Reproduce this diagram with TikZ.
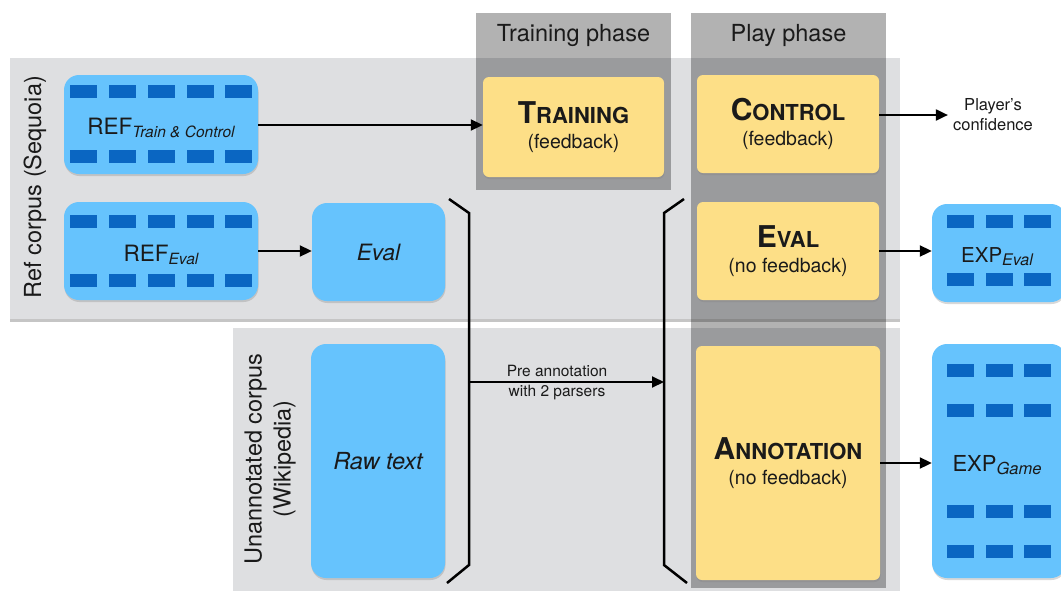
\documentclass[tikz,border=0pt]{standalone}
\usepackage{fontspec}
\setmainfont{TeX Gyre Heros}
\usetikzlibrary{arrows.meta,shadows}
\definecolor{panelgray}{HTML}{DEDFE1}
\definecolor{boxblue}{HTML}{66C3FD}
\definecolor{cellblue}{HTML}{0A66C2}
\definecolor{boxyellow}{HTML}{FDDF87}
\definecolor{txt}{HTML}{1A1A1A}
\newcommand\fsc[2]{{\fontsize{30}{30}\selectfont #1}{\fontsize{22}{22}\selectfont #2}}
\newcommand\fs[1]{\fontsize{#1}{#1}\selectfont}
\tikzset{
  panel/.style={fill=panelgray, draw=none, drop shadow={opacity=0.45, shadow xshift=0pt, shadow yshift=-2.5pt}},
  phasecol/.style={fill=black, fill opacity=0.3, draw=none},
  bluebox/.style={fill=boxblue, draw=none, rounded corners=15pt, text=txt,
     drop shadow={opacity=0.3, shadow xshift=0.5pt, shadow yshift=-2pt}},
  yellowbox/.style={fill=boxyellow, draw=none, rounded corners=6pt, text=txt, align=center,
     font=\fontsize{19.5}{25}\selectfont,
     drop shadow={opacity=0.3, shadow xshift=0.5pt, shadow yshift=-2pt}},
  cell/.style={fill=cellblue, draw=none},
  conn/.style={draw=black, line width=2pt, -{Triangle[length=12pt,width=11pt]}},
  bracket/.style={draw=black, line width=2.5pt},
  plain/.style={text=txt, inner sep=0pt, align=center}
}
\begin{document}
\begin{tikzpicture}[x=1pt,y=-1pt]
\useasboundingbox (0,0) rectangle (1061,590);
\fill[white] (0,0) rectangle (1061,590);
% panels
\path[panel] (10,58) rectangle (900,319);
\path[panel] (233,328) rectangle (900,594);
% phase columns
\path[phasecol] (476,13) rectangle (671,190);
\path[phasecol] (691,13) rectangle (886,588);
\node[plain, font=\fs{23.5}] (hTrain) at (573.5,35) {Training phase};
\node[plain, font=\fs{23.5}] (hPlay) at (788.5,35) {Play phase};
% side labels
\node[plain, rotate=90, font=\fs{23.5}] (lRef) at (35,187) {Ref corpus (Sequoia)};
\node[plain, rotate=90, font=\fontsize{23.5}{29}\selectfont] (lUn) at (270,459) {Unannotated corpus\\(Wikipedia)};
% blue boxes
\node[bluebox, minimum width=194pt, minimum height=99pt] (refTC) at (161,124.5) {};
\node[bluebox, minimum width=194pt, minimum height=98pt] (refEval) at (161,251) {};
\node[bluebox, minimum width=133pt, minimum height=98pt, font=\fs{22.5}\itshape] (eval) at (378.5,252) {Eval};
\node[bluebox, minimum width=134pt, minimum height=234pt, font=\fs{23.5}\itshape] (raw) at (378,461) {Raw text};
\node[bluebox, minimum width=134pt, minimum height=98pt] (expEval) at (999,253) {};
\node[bluebox, minimum width=134pt, minimum height=234pt] (expGame) at (999,461) {};
% cells
\foreach \x in {70,109,148,187,225}{
  \foreach \y in {85,150,215,274}{
    \fill[cell] (\x,\y) rectangle ++(27,13);
  }
}
\foreach \x in {947,986,1024}{
  \foreach \y in {215,273,364,404,505,545}{
    \fill[cell] (\x,\y) rectangle ++(27,13);
  }
}
% labels in blue boxes
\node[plain, font=\fs{22.5}] (tRefTC) at (161,128) {REF\raisebox{-3pt}{\fs{15.5}\itshape Train \& Control}};
\node[plain, font=\fs{22.5}] (tRefEval) at (161,255) {REF\raisebox{-3pt}{\fs{15.5}\itshape Eval}};
\node[plain, font=\fs{20.5}] (tExpEval) at (997,257) {EXP\raisebox{-3pt}{\fs{16}\itshape Eval}};
\node[plain, font=\fs{22}] (tExpGame) at (997,465) {EXP\raisebox{-3pt}{\fs{16.5}\itshape Game}};
% yellow boxes
\node[yellowbox, minimum width=181pt, minimum height=100pt] (train) at (573.5,127) {{\bfseries\fsc{T}{RAINING}}\\(feedback)};
\node[yellowbox, minimum width=182pt, minimum height=98pt] (control) at (788,124) {{\bfseries\fsc{C}{ONTROL}}\\(feedback)};
\node[yellowbox, minimum width=182pt, minimum height=98pt] (evalY) at (788,251) {{\bfseries\fsc{E}{VAL}}\\(no feedback)};
\node[yellowbox, minimum width=184pt, minimum height=234pt] (annot) at (788,463) {{\bfseries\fsc{A}{NNOTATION}}\\(no feedback)};
% player's confidence
\node[plain, font=\fontsize{16.5}{20}\selectfont] (conf) at (993,115) {Player’s\\confidence};
% brackets
\coordinate (lb1) at (449,199); \coordinate (lb2) at (469,213);
\coordinate (lb3) at (469,565); \coordinate (lb4) at (447,583);
\coordinate (rb1) at (684,199); \coordinate (rb2) at (664,213);
\coordinate (rb3) at (664,565); \coordinate (rb4) at (687,583);
\path[bracket] (lb1) -- (lb2) -- (lb3) -- (lb4);
\path[bracket] (rb1) -- (rb2) -- (rb3) -- (rb4);
\coordinate (preS) at (469,382);
\coordinate (preE) at (664,382);
% connectors
\draw[conn] (refTC.east |- 0,125) -- (train.west |- 0,125);
\draw[conn] (refEval.east) -- (eval.west |- refEval.east);
\draw[conn] (control.east |- 0,115) -- ([xshift=-5pt]conf.west |- 0,115);
\draw[conn] (evalY.east) -- (expEval.west |- evalY.east);
\draw[conn] (annot.east) -- (expGame.west |- annot.east);
\draw[conn] (preS) -- (preE);
\node[plain, font=\fontsize{15.5}{19.5}\selectfont] (preLbl) at (557,382.5) {Pre annotation\\with 2 parsers};
\end{tikzpicture}
\end{document}
